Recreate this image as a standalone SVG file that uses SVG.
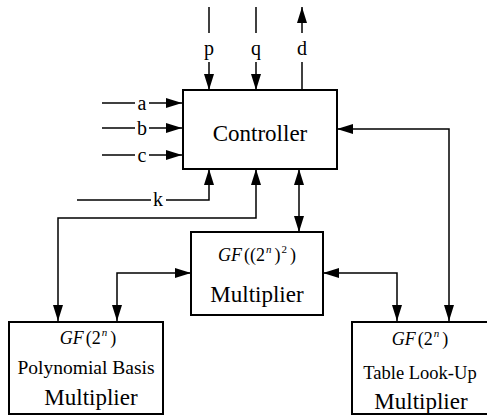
<svg xmlns="http://www.w3.org/2000/svg" width="487" height="418" viewBox="0 0 487 418">
<style>
.box{fill:#fff;stroke:#000;stroke-width:2}
.ln{fill:none;stroke:#000;stroke-width:1.5}
.t{font-family:Liberation Serif,Times New Roman,Times,DejaVu Serif,serif;fill:#000}
.big{font-size:23px;text-anchor:middle}
.mid{font-size:19px;text-anchor:middle}
.gf{font-size:18px;text-anchor:middle}
.lbl{font-size:20px;text-anchor:middle}
.it{font-style:italic}
</style>
<defs>
<marker id="ah" viewBox="0 0 16 10" refX="16" refY="5" markerWidth="16" markerHeight="10" orient="auto-start-reverse" markerUnits="userSpaceOnUse">
<path d="M0,0 L16,5 L0,10 z" fill="#000"/>
</marker>
</defs>
<g id="connectors">
<line class="ln" x1="209" y1="7" x2="209" y2="33"/>
<line class="ln" x1="209" y1="62" x2="209" y2="90" marker-end="url(#ah)"/>
<line class="ln" x1="256" y1="7" x2="256" y2="33"/>
<line class="ln" x1="256" y1="62" x2="256" y2="90" marker-end="url(#ah)"/>
<line class="ln" x1="302" y1="33" x2="302" y2="7" marker-end="url(#ah)"/>
<line class="ln" x1="302" y1="62" x2="302" y2="90"/>
<line class="ln" x1="102" y1="103" x2="135" y2="103"/>
<line class="ln" x1="149" y1="103" x2="182" y2="103" marker-end="url(#ah)"/>
<line class="ln" x1="102" y1="128" x2="135" y2="128"/>
<line class="ln" x1="149" y1="128" x2="182" y2="128" marker-end="url(#ah)"/>
<line class="ln" x1="102" y1="155" x2="135" y2="155"/>
<line class="ln" x1="149" y1="155" x2="182" y2="155" marker-end="url(#ah)"/>
<line class="ln" x1="77" y1="200" x2="151" y2="200"/>
<path class="ln" d="M166,200 H209 V169" marker-end="url(#ah)"/>
<path class="ln" d="M58,321 V218 H256 V169" marker-start="url(#ah)" marker-end="url(#ah)"/>
<line class="ln" x1="299" y1="169" x2="299" y2="232" marker-start="url(#ah)" marker-end="url(#ah)"/>
<path class="ln" d="M191,273 H117 V321" marker-start="url(#ah)" marker-end="url(#ah)"/>
<path class="ln" d="M323,273 H397 V321" marker-start="url(#ah)" marker-end="url(#ah)"/>
<path class="ln" d="M337,129 H449 V321" marker-start="url(#ah)" marker-end="url(#ah)"/>
<text class="t lbl" x="209" y="55">p</text>
<text class="t lbl" x="256" y="55">q</text>
<text class="t lbl" x="302" y="55">d</text>
<text class="t lbl" x="142" y="110">a</text>
<text class="t lbl" x="142" y="135">b</text>
<text class="t lbl" x="142" y="162">c</text>
<text class="t lbl" x="158" y="206">k</text>
</g>
<g id="controller">
<rect class="box" x="183" y="90" width="154" height="79"/>
<text class="t big" x="260" y="141">Controller</text>
</g>
<g id="gf22-multiplier">
<rect class="box" x="191" y="232" width="132" height="83"/>
<text class="t gf" x="257" y="261"><tspan class="it">GF</tspan><tspan dx="2">((2</tspan><tspan class="it" font-size="11" dx="1" dy="-8">n</tspan><tspan dx="3" dy="8">)</tspan><tspan font-size="11" dx="1" dy="-8">2</tspan><tspan dx="3" dy="8">)</tspan></text>
<text class="t big" x="257" y="302">Multiplier</text>
</g>
<g id="poly-multiplier">
<rect class="box" x="9" y="322" width="154" height="92"/>
<text class="t gf" x="88" y="344"><tspan class="it">GF</tspan><tspan dx="2">(2</tspan><tspan class="it" font-size="11" dx="1" dy="-8">n</tspan><tspan dx="3" dy="8">)</tspan></text>
<text class="t mid" x="86" y="374" style="font-size:19.5px">Polynomial Basis</text>
<text class="t big" x="91" y="405">Multiplier</text>
</g>
<g id="table-multiplier">
<rect class="box" x="352" y="322" width="140" height="92"/>
<text class="t gf" x="420" y="345"><tspan class="it">GF</tspan><tspan dx="2">(2</tspan><tspan class="it" font-size="11" dx="1" dy="-8">n</tspan><tspan dx="3" dy="8">)</tspan></text>
<text class="t mid" x="420" y="379" style="font-size:18.5px">Table Look-Up</text>
<text class="t big" x="421" y="409">Multiplier</text>
</g>
</svg>
